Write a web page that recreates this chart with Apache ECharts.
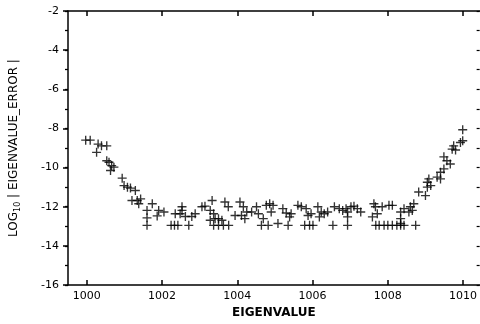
<!DOCTYPE html>
<html>
<head>
<meta charset="utf-8">
<script src="https://cdn.jsdelivr.net/npm/echarts@6/dist/echarts.min.js"></script>
<style>
  html, body { margin: 0; padding: 0; background: #fff; }
  #main { width: 480px; height: 324px; }
</style>
</head>
<body>
<div id="main"></div>
<script>
// eigenvalue (x) and log10 |eigenvalue error| (y)
var eigenvalues = [
  999.97, 1000.09, 1000.30, 1000.39, 1000.53, 1000.26, 1000.53, 1000.59, 1000.66, 1000.72,
  1000.63, 1000.94, 1000.99, 1001.08, 1001.16, 1001.29, 1001.20, 1001.34, 1001.43, 1001.38,
  1001.74, 1001.60, 1001.60, 1001.60, 1001.91, 1001.87, 1002.35, 1002.05, 1002.53,
  1002.24, 1002.33, 1002.42, 1002.71, 1003.37, 1003.50, 1003.63, 1003.77, 1004.64, 1004.82,
  1005.08, 1005.35, 1005.79, 1005.92, 1006.01, 1006.54, 1006.93, 1007.68, 1007.77, 1007.90,
  1008.00, 1008.12, 1008.24, 1008.34, 1008.43, 1008.74,
  1002.53, 1002.48, 1002.62, 1002.79, 1002.88, 1003.06, 1003.14, 1003.33, 1003.28, 1003.37,
  1003.41, 1003.28, 1003.50, 1003.59, 1003.67, 1003.76, 1003.94, 1004.07, 1004.16, 1004.11,
  1004.25, 1004.20, 1004.38, 1004.51, 1004.56, 1004.69, 1004.77, 1004.86, 1004.95, 1004.90,
  1005.21, 1005.30, 1005.43, 1005.39, 1005.61, 1005.70, 1005.83, 1005.88, 1005.96, 1006.14,
  1006.23, 1006.31, 1006.40, 1006.18, 1006.58, 1006.71, 1006.80, 1006.89, 1006.93, 1007.02,
  1007.10, 1007.19, 1007.28, 1006.93, 1007.63, 1007.67, 1007.85, 1007.59, 1007.72, 1008.03,
  1008.12, 1008.34, 1008.43, 1008.56, 1008.60, 1008.65, 1008.69, 1008.34, 1008.34,
  1008.82, 1009.00, 1009.05, 1009.14, 1009.05, 1009.09, 1009.31, 1009.40, 1009.40, 1009.49,
  1009.49, 1009.57, 1009.66, 1009.71, 1009.80, 1009.75, 1009.93, 1009.99, 1009.99
];
var logErrors = [
  -8.60, -8.60, -8.80, -8.89, -8.89, -9.22, -9.65, -9.73, -9.90, -9.98,
  -10.15, -10.54, -10.92, -11.00, -11.05, -11.17, -11.68, -11.68, -11.60, -11.85,
  -11.85, -12.19, -12.57, -12.95, -12.19, -12.47, -12.36, -12.27, -12.19,
  -12.95, -12.95, -12.95, -12.95, -12.95, -12.95, -12.95, -12.95, -12.95, -12.95,
  -12.86, -12.95, -12.95, -12.95, -12.95, -12.95, -12.95, -12.95, -12.95, -12.95,
  -12.95, -12.95, -12.95, -12.95, -12.95, -12.95,
  -12.00, -12.36, -12.50, -12.50, -12.36, -12.00, -11.97, -11.68, -12.19, -12.36,
  -12.61, -12.69, -12.61, -12.69, -11.76, -12.00, -12.45, -11.76, -12.00, -12.45,
  -12.27, -12.61, -12.27, -12.00, -12.36, -12.61, -11.93, -11.85, -11.93, -12.27,
  -12.10, -12.32, -12.36, -12.52, -11.93, -12.00, -12.10, -12.45, -12.36, -12.00,
  -12.27, -12.36, -12.27, -12.52, -12.00, -12.10, -12.19, -12.10, -12.27, -12.00,
  -11.97, -12.10, -12.27, -12.52, -11.85, -12.00, -12.00, -12.52, -12.36, -11.93,
  -11.93, -12.27, -12.10, -12.27, -12.00, -12.19, -11.85, -12.61, -12.86,
  -11.25, -11.43, -11.00, -10.92, -10.75, -10.58, -10.49, -10.58, -10.24, -10.07,
  -9.45, -9.65, -9.82, -9.06, -9.10, -8.89, -8.72, -8.63, -8.07
];
var xTicks = [1000, 1002, 1004, 1006, 1008, 1010];
var xTitle = 'EIGENVALUE';

var points = eigenvalues.map(function (x, i) { return [x, logErrors[i]]; });
var plus = 'path://M0,4.25L4.25,4.25L4.25,0L5.75,0L5.75,4.25L10,4.25L10,5.75L5.75,5.75L5.75,10L4.25,10L4.25,5.75L0,5.75Z';
var font = 'DejaVu Sans';
var black = { color: '#000', width: 1.5 };

var myChart = echarts.init(document.getElementById('main'));
myChart.setOption({
  animation: false,
  grid: { left: 66, top: 11, right: 0, bottom: 36 },
  xAxis: [{
    type: 'value', min: 999.5, max: 1010.44, position: 'bottom',
    axisLine: { show: true, lineStyle: black },
    axisTick: { show: true, inside: true, length: 5, customValues: xTicks, lineStyle: black },
    axisLabel: {
      customValues: xTicks, color: '#000', fontFamily: font, fontSize: 11, margin: 6,
      formatter: function (v) { return String(v); }
    },
    splitLine: { show: false },
    name: xTitle, nameLocation: 'middle', nameGap: 22,
    nameTextStyle: { color: '#000', fontFamily: font, fontSize: 12, fontWeight: 'bold' }
  }, {
    type: 'value', min: 999.5, max: 1010.44, position: 'top',
    axisLine: { show: true, lineStyle: black },
    axisTick: { show: true, inside: true, length: 5, customValues: xTicks, lineStyle: black },
    axisLabel: { show: false },
    splitLine: { show: false }
  }],
  yAxis: [{
    type: 'value', min: -16, max: -2, interval: 2, position: 'left',
    axisLine: { show: true, lineStyle: black },
    axisTick: { show: true, length: 5, lineStyle: black },
    axisLabel: { color: '#000', fontFamily: font, fontSize: 11, margin: 9 },
    splitLine: { show: false },
    name: '{a|LOG}{b|10}{a| | EIGENVALUE_ERROR |}',
    nameLocation: 'middle', nameGap: 46,
    nameTextStyle: {
      color: '#000', fontFamily: font,
      rich: {
        a: { fontFamily: font, fontSize: 12, color: '#000', lineHeight: 16, verticalAlign: 'middle' },
        b: { fontFamily: font, fontSize: 8, color: '#000', lineHeight: 16, verticalAlign: 'bottom', padding: [6, 0, 0, 0] }
      }
    }
  }, {
    type: 'value', min: -16, max: -2, interval: 1, position: 'right',
    axisLine: { show: false },
    axisTick: { show: true, inside: true, length: 3, lineStyle: { color: '#000', width: 1.2 } },
    axisLabel: { show: false },
    splitLine: { show: false }
  }, {
    // the short unit ticks outside the left axis
    type: 'value', min: -16, max: -2, interval: 1, position: 'left',
    axisLine: { show: false },
    axisTick: { show: true, length: 3, lineStyle: { color: '#000', width: 1.3 } },
    axisLabel: { show: false },
    splitLine: { show: false }
  }],
  series: [{
    type: 'scatter',
    data: points,
    symbol: plus,
    symbolSize: 9,
    itemStyle: { color: '#000' }
  }]
});
</script>
</body>
</html>
